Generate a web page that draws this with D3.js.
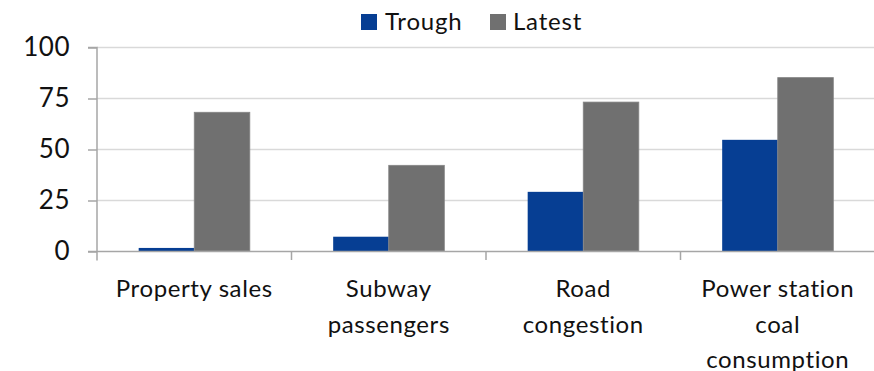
<!DOCTYPE html>
<html>
<head>
<meta charset="utf-8">
<script src="https://cdn.jsdelivr.net/npm/d3@7"></script>
<style>
  html, body { margin: 0; padding: 0; background: #fff; }
  svg { display: block; font-family: Lato, "Open Sans", sans-serif; }
</style>
</head>
<body>
<svg id="chart" width="874" height="371"></svg>
<script>
// Activity indicators: trough vs latest readings
const categories = [
  ["Property sales"],
  ["Subway", "passengers"],
  ["Road", "congestion"],
  ["Power station", "coal", "consumption"]
];
const seriesNames = ["Trough", "Latest"];
const troughValues = [1.5, 7, 29, 54.5];
const latestValues = [68, 42, 73, 85];
const yTicks = [0, 25, 50, 75, 100];
const colors = ["#063e93", "#707070"];

const svg = d3.select("#chart");
const W = 874;
const plotLeft = 97, plotTop = 47, plotBottom = 251;

const x = d3.scaleBand()
  .domain(d3.range(categories.length))
  .range([plotLeft, 875])
  .paddingInner(0)
  .paddingOuter(0);

const x1 = d3.scaleBand()
  .domain(seriesNames)
  .range([0, x.bandwidth()])
  .paddingInner(0)
  .paddingOuter(0.75);

const y = d3.scaleLinear().domain([0, 100]).range([plotBottom, plotTop]);

// gridlines
svg.append("g")
  .selectAll("line")
  .data(yTicks.filter(d => d > 0))
  .join("line")
  .attr("x1", plotLeft).attr("x2", W)
  .attr("y1", d => y(d) + 0.5).attr("y2", d => y(d) + 0.5)
  .attr("stroke", "#d9d9d9").attr("stroke-width", 1.5);

// bars
const rows = categories.map((c, i) => [troughValues[i], latestValues[i]]);
const groups = svg.append("g")
  .selectAll("g")
  .data(rows)
  .join("g")
  .attr("transform", (d, i) => `translate(${x(i)},0)`);

groups.selectAll("rect")
  .data(d => d.map((v, j) => ({ v, s: seriesNames[j], j })))
  .join("rect")
  .attr("x", d => x1(d.s))
  .attr("width", x1.bandwidth())
  .attr("y", d => y(d.v))
  .attr("height", d => plotBottom - y(d.v))
  .attr("fill", d => colors[d.j])
  .attr("stroke", d => d.j === 1 ? "#858585" : "none")
  .attr("stroke-width", 0.8);

// y axis
const yAxis = svg.append("g")
  .attr("transform", `translate(${plotLeft},0.5)`)
  .call(d3.axisLeft(y).tickValues(yTicks).tickSize(9).tickPadding(18));
yAxis.select(".domain").attr("stroke", "#a6a6a6").attr("stroke-width", 1.5)
  .attr("d", `M-9,${y(100)}H0V${plotBottom + 9}`);
yAxis.selectAll(".tick line").attr("stroke", "#a6a6a6").attr("stroke-width", 1.5);
yAxis.selectAll(".tick text")
  .attr("fill", "#111").attr("font-size", 26)
  .attr("letter-spacing", 0.5)
  .attr("font-family", "Lato, sans-serif");

// x axis baseline and category ticks
const xAxisG = svg.append("g");
xAxisG.append("line")
  .attr("x1", plotLeft - 9).attr("x2", W)
  .attr("y1", plotBottom + 0.5).attr("y2", plotBottom + 0.5)
  .attr("stroke", "#a6a6a6").attr("stroke-width", 1.5);
xAxisG.selectAll(".ctick")
  .data(d3.range(1, categories.length))
  .join("line")
  .attr("class", "ctick")
  .attr("x1", i => x(i)).attr("x2", i => x(i))
  .attr("y1", plotBottom).attr("y2", plotBottom + 9)
  .attr("stroke", "#a6a6a6").attr("stroke-width", 1.5);

// category labels
const labels = svg.append("g")
  .selectAll("text")
  .data(categories)
  .join("text")
  .attr("text-anchor", "middle")
  .attr("font-size", 24)
  .attr("letter-spacing", 0.6)
  .attr("fill", "#111")
  .attr("x", (d, i) => x(i) + x.bandwidth() / 2)
  .attr("y", 297);
labels.selectAll("tspan")
  .data(d => d)
  .join("tspan")
  .attr("x", function () { return this.parentNode.getAttribute("x"); })
  .attr("dy", (d, i) => i === 0 ? 0 : 35.5)
  .text(d => d);

// legend
const legend = svg.append("g");
const legendItems = [
  { name: "Trough", sx: 361, tx: 385 },
  { name: "Latest", sx: 490, tx: 513 }
];
legendItems.forEach((it, i) => {
  legend.append("rect")
    .attr("x", it.sx).attr("y", 14).attr("width", 16).attr("height", 16)
    .attr("fill", colors[i]);
  legend.append("text")
    .attr("x", it.tx).attr("y", 30)
    .attr("font-size", 24).attr("letter-spacing", 0.8).attr("fill", "#111")
    .text(it.name);
});
</script>
</body>
</html>
